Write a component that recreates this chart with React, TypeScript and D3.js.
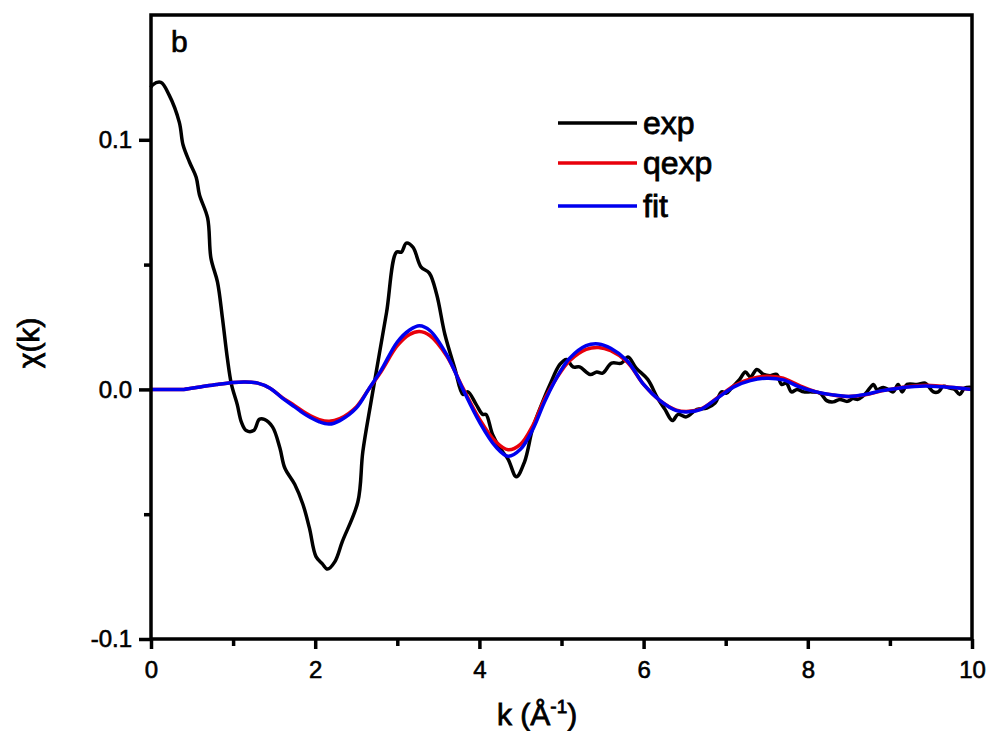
import { useEffect, useRef } from 'react';
import * as d3 from 'd3';

// exp curve
const expK = [0.00, 0.02, 0.12, 0.22, 0.345, 0.39, 0.47, 0.55, 0.59, 0.69, 0.73, 0.81, 0.87, 0.93, 0.98, 1.05, 1.10, 1.16, 1.25, 1.32, 1.38, 1.48, 1.57, 1.63, 1.75, 1.85, 1.93, 2.01, 2.09, 2.15, 2.24, 2.33, 2.52, 2.58, 2.68, 2.78, 2.87, 2.99, 3.05, 3.11, 3.19, 3.29, 3.39, 3.48, 3.58, 3.70, 3.80, 3.86, 3.96, 4.04, 4.08, 4.16, 4.25, 4.35, 4.45, 4.55, 4.65, 4.77, 4.86, 4.98, 5.06, 5.14, 5.22, 5.35, 5.43, 5.50, 5.61, 5.73, 5.81, 5.91, 6.05, 6.17, 6.26, 6.35, 6.42, 6.52, 6.65, 6.77, 6.87, 6.95, 7.01, 7.07, 7.17, 7.24, 7.30, 7.38, 7.46, 7.54, 7.62, 7.68, 7.74, 7.80, 7.87, 7.95, 8.05, 8.15, 8.23, 8.31, 8.39, 8.48, 8.55, 8.61, 8.66, 8.72, 8.80, 8.84, 8.92, 8.98, 9.04, 9.10, 9.15, 9.21, 9.33, 9.43, 9.47, 9.53, 9.59, 9.65, 9.73, 9.79, 9.85, 9.91, 10.0];
const expChi = [0.121, 0.122, 0.123, 0.118, 0.107, 0.098, 0.091, 0.085, 0.078, 0.0686, 0.0526, 0.043, 0.0286, 0.0125, 0.002, -0.006, -0.013, -0.0165, -0.0165, -0.012, -0.012, -0.015, -0.0235, -0.0315, -0.038, -0.046, -0.0556, -0.067, -0.070, -0.072, -0.069, -0.061, -0.045, -0.025, -0.005, 0.014, 0.031, 0.055, 0.055, 0.0586, 0.057, 0.049, 0.0466, 0.038, 0.022, 0.0085, -0.002, -0.001, -0.006, -0.010, -0.010, -0.018, -0.0235, -0.028, -0.035, -0.029, -0.0155, -0.005, 0.002, 0.010, 0.012, 0.009, 0.009, 0.006, 0.007, 0.0065, 0.0105, 0.0105, 0.013, 0.0085, 0.004, -0.0035, -0.008, -0.0125, -0.010, -0.011, -0.008, -0.0075, -0.0055, -0.001, -0.0015, 0.0005, 0.004, 0.007, 0.005, 0.008, 0.006, 0.0055, 0.006, 0.002, 0.0025, -0.001, 0, -0.001, -0.001, -0.0015, -0.0045, -0.005, -0.004, -0.0048, -0.0037, -0.004, -0.003, -0.001, 0.002, 0, 0.0008, 0, -0.001, 0.002, -0.001, 0.002, 0.002, 0.0025, 0.0012, -0.001, -0.001, 0.0012, 0.0005, 0, -0.002, 0.0005, 0.0008];

// qexp and fit share the same k grid
const fitK = [0, 0.2, 0.4, 0.6, 0.8, 1.0, 1.15, 1.3, 1.45, 1.6, 1.75, 1.9, 2.05, 2.17, 2.3, 2.5, 2.65, 2.8, 3.0, 3.15, 3.27, 3.4, 3.6, 3.8, 4.0, 4.2, 4.35, 4.5, 4.65, 4.8, 5.0, 5.1, 5.3, 5.45, 5.6, 5.8, 6.0, 6.2, 6.4, 6.55, 6.7, 6.9, 7.1, 7.3, 7.5, 7.7, 7.9, 8.1, 8.3, 8.5, 8.7, 8.9, 9.1, 9.3, 9.5, 9.7, 9.9, 10];
const qexpChi = [0, 0, 0, 0.001, 0.002, 0.0028, 0.003, 0.0025, 0.0005, -0.0033, -0.0065, -0.0098, -0.0121, -0.0128, -0.0117, -0.007, 0.0, 0.007, 0.0175, 0.022, 0.0232, 0.0215, 0.0135, 0.0005, -0.0118, -0.021, -0.0242, -0.022, -0.0145, -0.0035, 0.0075, 0.0115, 0.016, 0.0168, 0.0155, 0.011, 0.002, -0.0045, -0.0083, -0.0088, -0.0078, -0.0033, 0.0015, 0.0042, 0.0053, 0.0045, 0.0015, -0.001, -0.0022, -0.0028, -0.0022, -0.0006, 0.0006, 0.0014, 0.0016, 0.001, 0.0004, 0.0];
const fitChi = [0, 0, 0, 0.001, 0.002, 0.0028, 0.003, 0.0025, 0.0005, -0.0035, -0.007, -0.0105, -0.013, -0.0139, -0.0125, -0.0075, 0.0, 0.0075, 0.019, 0.0238, 0.0255, 0.0235, 0.014, 0.0, -0.013, -0.023, -0.0268, -0.024, -0.016, -0.0045, 0.008, 0.0125, 0.0175, 0.0182, 0.0165, 0.0115, 0.002, -0.0045, -0.0085, -0.009, -0.008, -0.0035, 0.001, 0.0035, 0.0045, 0.0038, 0.001, -0.001, -0.0022, -0.0028, -0.002, -0.0005, 0.0005, 0.0012, 0.0013, 0.0009, 0.0004, 0.0];

const seriesNames = ['exp', 'qexp', 'fit'];
const seriesColors = ['#000000', '#e8000b', '#0000ee'];

const xMajor = [0, 2, 4, 6, 8, 10];
const xMinor = [1, 3, 5, 7, 9];
const yMajor = [-0.1, 0.0, 0.1];
const yMinor = [-0.05, 0.05];

const FONT = '"Liberation Sans", Arial, sans-serif';

export default function App() {
  const svgRef = useRef<SVGSVGElement>(null);

  useEffect(() => {
    if (!svgRef.current) return;
    const svg = d3.select(svgRef.current);
    svg.selectAll('*').remove();

    const width = 990;
    const height = 731;
    const margin = { top: 15, right: 18, bottom: 92, left: 151 };
    const innerWidth = width - margin.left - margin.right;
    const innerHeight = height - margin.top - margin.bottom;

    const x = d3.scaleLinear().domain([0, 10]).range([0, innerWidth]);
    const y = d3.scaleLinear().domain([-0.1, 0.15]).range([innerHeight, 0]);

    const g = svg.append('g').attr('transform', `translate(${margin.left},${margin.top})`);

    // Curves
    const line = d3.line<[number, number]>()
      .x(d => x(d[0]))
      .y(d => y(d[1]))
      .curve(d3.curveCatmullRom.alpha(0.5));
    const smooth = d3.line<[number, number]>()
      .x(d => x(d[0]))
      .y(d => y(d[1]))
      .curve(d3.curveCatmullRom);

    const expData = expK.map((k, i) => [k, expChi[i]] as [number, number]);
    const qexpData = fitK.map((k, i) => [k, qexpChi[i]] as [number, number]);
    const fitData = fitK.map((k, i) => [k, fitChi[i]] as [number, number]);

    g.append('path').datum(expData)
      .attr('fill', 'none').attr('stroke', seriesColors[0])
      .attr('stroke-width', 3.5).attr('stroke-linejoin', 'round')
      .attr('d', line);
    g.append('path').datum(qexpData)
      .attr('fill', 'none').attr('stroke', seriesColors[1])
      .attr('stroke-width', 3.5)
      .attr('d', smooth);
    g.append('path').datum(fitData)
      .attr('fill', 'none').attr('stroke', seriesColors[2])
      .attr('stroke-width', 3.5)
      .attr('d', smooth);

    // Frame
    g.append('rect')
      .attr('x', 0).attr('y', 0)
      .attr('width', innerWidth).attr('height', innerHeight)
      .attr('fill', 'none').attr('stroke', '#000').attr('stroke-width', 3.5);

    // Axes
    const styleAxis = (sel: any) => {
      sel.select('.domain').remove();
      sel.selectAll('line').attr('stroke', '#000').attr('stroke-width', 3.5);
      sel.selectAll('text')
        .attr('fill', '#000')
        .attr('stroke', '#000')
        .attr('stroke-width', 0.6)
        .style('font-family', FONT)
        .style('font-size', '24px');
    };

    g.append('g')
      .attr('transform', `translate(0,${innerHeight})`)
      .call(d3.axisBottom(x).tickValues(xMinor).tickSize(7).tickFormat(() => ''))
      .call(styleAxis);
    g.append('g')
      .attr('transform', `translate(0,${innerHeight})`)
      .call(d3.axisBottom(x).tickValues(xMajor).tickSize(10).tickPadding(12).tickFormat(d3.format('d')))
      .call(styleAxis);

    g.append('g')
      .call(d3.axisLeft(y).tickValues(yMinor).tickSize(7).tickFormat(() => ''))
      .call(styleAxis);
    g.append('g')
      .call(d3.axisLeft(y).tickValues(yMajor).tickSize(12).tickPadding(7)
        .tickFormat(d => (+d).toFixed(1).replace('\u2212', '-')))
      .call(styleAxis);

    // Axis titles
    const xt = svg.append('text')
      .attr('x', 497).attr('y', 725)
      .attr('fill', '#000').attr('stroke', '#000').attr('stroke-width', 0.8)
      .style('font-family', FONT).style('font-size', '30px');
    xt.append('tspan').text('k (Å');
    xt.append('tspan').attr('dy', -12).style('font-size', '19px').text('-1');
    xt.append('tspan').attr('dy', 12).text(')');

    svg.append('text')
      .attr('transform', 'translate(39,343) rotate(-90)')
      .attr('text-anchor', 'middle')
      .attr('fill', '#000').attr('stroke', '#000').attr('stroke-width', 0.8)
      .style('font-family', FONT).style('font-size', '30px')
      .text('χ(k)');

    // Panel label
    svg.append('text')
      .attr('x', 171).attr('y', 52)
      .attr('fill', '#000').attr('stroke', '#000').attr('stroke-width', 0.7)
      .style('font-family', FONT).style('font-size', '30px')
      .text('b');

    // Legend
    const legendY = [123, 163, 206];
    seriesNames.forEach((name, i) => {
      svg.append('line')
        .attr('x1', 558).attr('x2', 637)
        .attr('y1', legendY[i]).attr('y2', legendY[i])
        .attr('stroke', seriesColors[i]).attr('stroke-width', 3.5);
      svg.append('text')
        .attr('x', 643).attr('y', legendY[i] + 11)
        .attr('fill', '#000').attr('stroke', '#000').attr('stroke-width', 0.8)
        .style('font-family', FONT).style('font-size', '32px')
        .text(name);
    });
  }, []);

  return (
    <svg
      ref={svgRef}
      width={990}
      height={731}
      style={{ position: 'absolute', left: 0, top: 0, background: '#fff' }}
    />
  );
}
